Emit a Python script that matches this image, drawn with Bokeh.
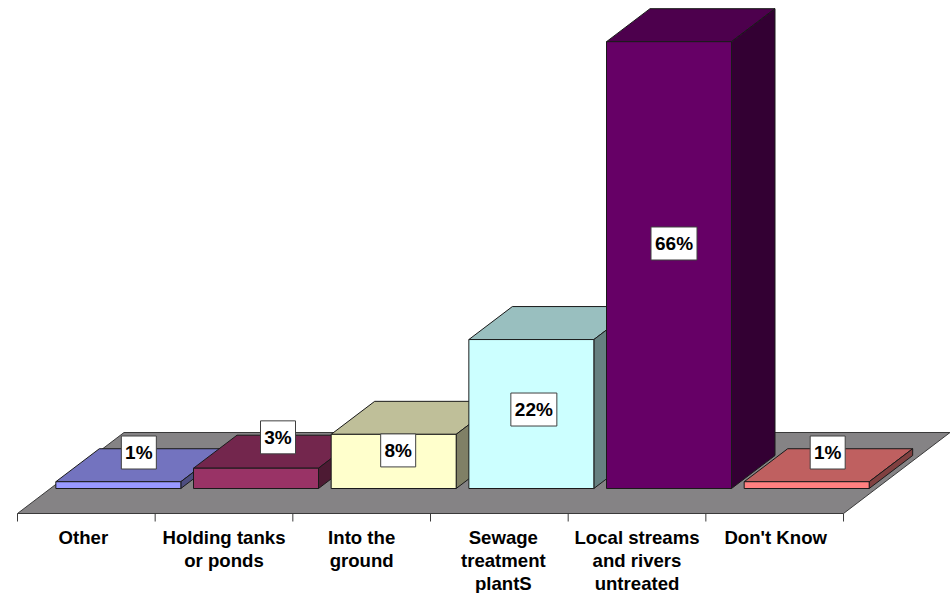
from bokeh.core.properties import value
from bokeh.embed import file_html
from bokeh.models import ColumnDataSource, Range1d
from bokeh.plotting import figure
from bokeh.resources import INLINE

# Where household wastewater ends up, in percent of responses
categories = [
    "Other",
    "Holding tanks\nor ponds",
    "Into the\nground",
    "Sewage\ntreatment\nplantS",
    "Local streams\nand rivers\nuntreated",
    "Don't Know",
]
values = [1, 3, 8, 22, 66, 1]
value_labels = ["1%", "3%", "8%", "22%", "66%", "1%"]

front_colors = ["#9999FF", "#993366", "#FFFFCC", "#CCFFFF", "#660066", "#FF8080"]
top_colors = ["#7373BF", "#73264D", "#BFBF99", "#99BFBF", "#4D004D", "#BF6060"]
side_colors = ["#4D4D80", "#4D1A33", "#808066", "#668080", "#330033", "#804040"]

# Scale of the pseudo-3D scene
PX_PER_SLOT = 137.67
PX_PER_PCT = 6.77
FIG_W, FIG_H = 950, 593
LEFT_PX = 17
BASE_PX = 488
FLOOR_FRONT_PX = 513
FONT = value("Liberation Sans")

bar_width = 125 / PX_PER_SLOT
depth_x = 43.5 / PX_PER_SLOT
depth_y = 33 / PX_PER_PCT
row_shift = 32 / PX_PER_SLOT
floor_low = (BASE_PX - FLOOR_FRONT_PX) / PX_PER_PCT
floor_high = (BASE_PX - 432) / PX_PER_PCT
floor_shift = 106.5 / PX_PER_SLOT
tick_length = 8 / PX_PER_PCT

# Data-label offsets from the centre of each bar's front face, in pixels
label_nudge_x = [20.5, 22, 4.5, 2.5, 5, 21]
label_nudge_y = [32.6, 41, 11, 4.5, 21.6, 32.6]
# Category-label offsets from the centre of each slot, in pixels
category_nudge_x = [-3, 0, 0, 4, 0, 1]

p = figure(
    width=FIG_W,
    height=FIG_H,
    output_backend="svg",
    toolbar_location=None,
    x_range=Range1d(-LEFT_PX / PX_PER_SLOT, (FIG_W - LEFT_PX) / PX_PER_SLOT),
    y_range=Range1d((BASE_PX - FIG_H) / PX_PER_PCT, BASE_PX / PX_PER_PCT),
    x_axis_location=None,
    y_axis_location=None,
    min_border=0,
    outline_line_color=None,
    background_fill_color="white",
    border_fill_color="white",
)
p.grid.visible = False

# Floor of the chart
n = len(categories)
p.patch(
    [0, n, n + floor_shift, floor_shift],
    [floor_low, floor_low, floor_high, floor_high],
    fill_color="#858385",
    line_color="#3A3A3A",
    line_width=1,
)

# Tick marks at the slot edges along the floor's front edge
edges = list(range(n + 1))
p.segment(edges, [floor_low] * (n + 1), edges, [floor_low - tick_length] * (n + 1),
          line_color="#3A3A3A", line_width=1)

# Bars, painted left to right so that nearer faces overlap correctly
bar_lefts = [i + row_shift + (1 - bar_width) / 2 for i in range(n)]
for i, v in enumerate(values):
    x0 = bar_lefts[i]
    x1 = x0 + bar_width
    p.patch([x0, x1, x1 + depth_x, x0 + depth_x],
            [v, v, v + depth_y, v + depth_y],
            fill_color=top_colors[i], line_color="#1A1A1A", line_width=1)
    p.patch([x1, x1 + depth_x, x1 + depth_x, x1],
            [0, depth_y, v + depth_y, v],
            fill_color=side_colors[i], line_color="#1A1A1A", line_width=1)
    p.patch([x0, x1, x1, x0], [0, 0, v, v],
            fill_color=front_colors[i], line_color="#1A1A1A", line_width=1)

# Value labels in white boxes
label_source = ColumnDataSource(dict(
    x=[left + bar_width / 2 + dx / PX_PER_SLOT for left, dx in zip(bar_lefts, label_nudge_x)],
    y=[v / 2 + dy / PX_PER_PCT for v, dy in zip(values, label_nudge_y)],
    text=value_labels,
    w=[13 + 11 * len(t) for t in value_labels],
))
p.rect("x", "y", width="w", height=33, width_units="screen", height_units="screen",
       source=label_source, fill_color="white", line_color="#404040", line_width=1)
p.text("x", "y", text="text", source=label_source, text_align="center",
       text_baseline="middle", text_font=FONT, text_font_style="bold",
       text_font_size="19px", text_color="black")

# Category names under the floor
cat_source = ColumnDataSource(dict(
    x=[i + 0.5 + dx / PX_PER_SLOT for i, dx in enumerate(category_nudge_x)],
    y=[floor_low] * n,
    text=categories,
))
p.text("x", "y", text="text", source=cat_source, y_offset=13,
       text_align="center", text_baseline="top", text_font=FONT,
       text_font_style="bold", text_font_size="18.6px", text_color="black",
       text_line_height=1.1)

open("out.html", "w").write(file_html(p, INLINE))
